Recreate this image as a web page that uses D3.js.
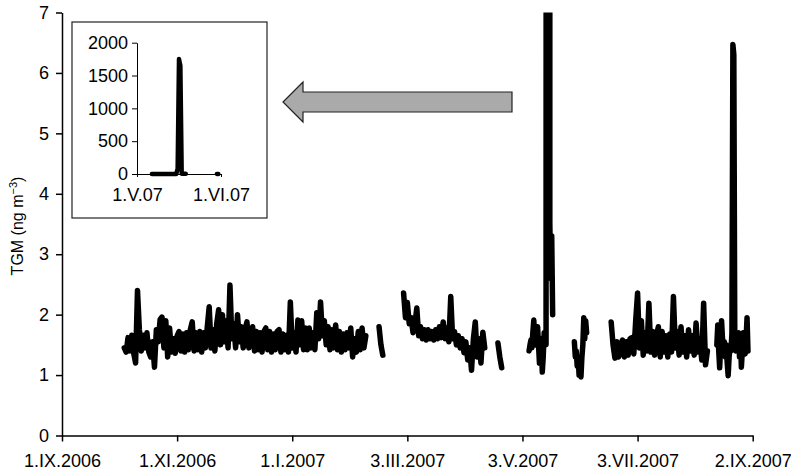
<!DOCTYPE html>
<html>
<head>
<meta charset="utf-8">
<script src="https://cdn.jsdelivr.net/npm/d3@7"></script>
<style>
  body { margin: 0; background: #fff; }
  text { font-family: "Liberation Sans", Arial, sans-serif; fill: #000; }
  .axis path, .axis line { stroke: #000; }
</style>
</head>
<body>
<div id="chart"></div>
<script>
// TGM time series, Sept 2006 - Sept 2007

const xTickDates = ['2006-09-01', '2006-11-01', '2007-01-01', '2007-03-03', '2007-05-03', '2007-07-03', '2007-09-02']
const xTickLabels = ['1.IX.2006', '1.XI.2006', '1.I.2007', '3.III.2007', '3.V.2007', '3.VII.2007', '2.IX.2007']
const yTicks = [0, 1, 2, 3, 4, 5, 6, 7]
const insetYTicks = [0, 500, 1000, 1500, 2000]
const insetXTickDates = ['2007-05-01', '2007-06-01']
const insetXTickLabels = ['1.V.07', '1.VI.07']

// measurement runs: start time, step in hours, values (ng m-3)
const segStarts = ['2006-10-04T00:00', '2007-02-16T00:00', '2007-03-01T00:00', '2007-04-20T00:00',
  '2007-05-06T12:00', '2007-05-30T12:00', '2007-06-19T00:00', '2007-08-14T00:00']
const segSteps = [24, 24, 24, 24, 12, 12, 24, 12]

const octToFeb = [1.45, 1.38, 1.62, 1.4, 1.66, 1.36, 1.2, 2.4, 1.75, 1.4, 1.66, 1.45, 1.7, 1.38, 1.3, 1.55,
  1.13, 1.75, 1.55, 1.92, 1.96, 1.45, 1.9, 1.3, 1.78, 1.38, 1.6, 1.36, 1.65, 1.72, 1.4, 1.68, 1.38, 1.7,
  1.42, 1.75, 1.88, 1.4, 1.7, 1.42, 1.72, 1.38, 1.7, 1.45, 1.8, 2.13, 1.45, 1.75, 1.4, 1.85, 2.08, 1.5,
  2.0, 1.55, 1.9, 1.45, 2.49, 1.6, 1.85, 1.45, 2.0, 1.55, 1.8, 1.45, 1.75, 1.88, 1.45, 1.7, 1.8, 1.4,
  1.72, 1.42, 1.7, 1.38, 1.72, 1.78, 1.42, 1.72, 1.38, 1.68, 1.42, 1.72, 1.75, 1.38, 1.68, 1.42, 1.66,
  1.38, 2.21, 1.45, 1.7, 1.38, 1.91, 1.5, 1.9, 1.42, 1.78, 1.42, 1.78, 1.45, 1.7, 1.42, 2.03, 1.6, 2.21,
  1.65, 1.9, 1.5, 1.8, 1.42, 1.75, 1.45, 1.83, 1.42, 1.72, 1.38, 1.68, 1.42, 1.7, 1.45, 1.78, 1.3, 1.6,
  1.38, 1.72, 1.42, 1.78, 1.45, 1.65]
const midFeb = [1.8, 1.5, 1.33]
const marToApr = [2.36, 1.95, 2.2, 1.85, 1.95, 1.7, 1.85, 2.11, 1.65, 1.8, 1.6, 1.75, 1.58, 1.75, 1.6, 1.72,
  1.58, 1.75, 1.6, 1.8, 1.62, 1.88, 1.6, 1.78, 1.55, 2.3, 1.6, 1.72, 1.5, 1.65, 1.45, 1.6, 1.37, 1.55,
  1.25, 1.45, 1.08, 1.6, 1.88, 1.3, 1.6, 1.2, 1.71, 1.45]
const lateApr = [1.53, 1.3, 1.12]
const mayEvent = [1.4, 1.5, 1.58, 1.45, 1.7, 1.91, 1.6, 1.5, 1.65, 1.8, 1.5, 1.2, 1.4, 1.6, 1.05, 1.3,
  1.7, 1.6, 1.5, 80, 1750, 1650, 3.5, 2.6, 3.3, 2.0]
const endMay = [1.55, 1.3, 1.4, 1.15, 1.3, 1.0, 1.2, 0.97, 1.3, 1.5, 1.95, 1.6, 1.9, 1.7]
const junToAug = [1.88, 1.5, 1.28, 1.55, 1.3, 1.5, 1.58, 1.3, 1.55, 1.33, 1.6, 1.62, 1.35, 1.9, 2.36, 1.45,
  1.9, 1.33, 1.7, 1.4, 2.19, 1.38, 1.72, 1.33, 1.65, 1.8, 1.3, 1.72, 1.38, 1.65, 1.3, 1.68, 1.38, 2.3,
  1.45, 1.72, 1.33, 1.8, 1.38, 1.65, 1.3, 1.75, 1.4, 1.65, 1.33, 1.86, 1.38, 1.6, 1.25, 2.19, 1.17, 1.4]
const midAug = [1.5, 1.83, 1.4, 1.12, 1.5, 1.9, 1.6, 1.4, 1.55, 1.3, 1.5, 1.2, 0.99, 1.3, 1.45, 1.4,
  1.7, 6.47, 6.3, 1.6, 1.4, 1.6, 1.5, 1.7, 1.3, 1.6, 1.13, 1.4, 1.7, 1.5, 1.35, 1.6, 1.95, 1.4]

const segValues = [octToFeb, midFeb, marToApr, lateApr, mayEvent, endMay, junToAug, midAug]

const width = 791
const height = 471

const parse = s => new Date(s + (s.length > 10 ? ':00Z' : 'T00:00:00Z'))

const segments = segValues.map((vals, k) => {
  const t0 = parse(segStarts[k]).getTime()
  return vals.map((v, i) => ({ date: new Date(t0 + i * segSteps[k] * 3600e3), value: v }))
})

const svg = d3.select('#chart')
  .append('svg')
  .attr('width', width)
  .attr('height', height)

// main scales
const x = d3.scaleUtc()
  .domain([parse('2006-09-01'), parse('2007-09-02')])
  .range([62, 752.7])
const y = d3.scaleLinear().domain([0, 7]).range([435.5, 12.5])

svg.append('defs').append('clipPath')
  .attr('id', 'plotclip')
  .append('rect')
  .attr('x', 62).attr('y', 12.5)
  .attr('width', width - 62).attr('height', 423)

const line = d3.line()
  .x(d => x(d.date))
  .y(d => y(d.value))

svg.append('g')
  .attr('clip-path', 'url(#plotclip)')
  .selectAll('path')
  .data(segments)
  .enter().append('path')
  .attr('d', line)
  .attr('fill', 'none')
  .attr('stroke', '#000')
  .attr('stroke-width', 5.5)
  .attr('stroke-linejoin', 'round')
  .attr('stroke-linecap', 'round')

// axes
const xAxis = svg.append('g')
  .attr('class', 'axis')
  .attr('transform', `translate(0, ${y(0)})`)
  .call(d3.axisBottom(x)
    .tickValues(xTickDates.map(parse))
    .tickFormat((d, i) => xTickLabels[i])
    .tickSize(6)
    .tickSizeOuter(0)
    .tickPadding(13))
xAxis.selectAll('text').style('font-size', '18px')
xAxis.select('.domain').attr('stroke-width', 1.5)
xAxis.selectAll('line').attr('stroke-width', 1.5)

const yAxis = svg.append('g')
  .attr('class', 'axis')
  .attr('transform', `translate(${x.range()[0]}, 0)`)
  .call(d3.axisLeft(y)
    .tickValues(yTicks)
    .tickFormat(d3.format('d'))
    .tickSize(6)
    .tickSizeOuter(0)
    .tickPadding(7))
yAxis.selectAll('text').style('font-size', '18px')
yAxis.select('.domain').attr('stroke-width', 1.5)
yAxis.selectAll('line').attr('stroke-width', 1.5)

// y title
const title = svg.append('text')
  .attr('transform', 'translate(23, 226) rotate(-90)')
  .attr('text-anchor', 'middle')
  .style('font-size', '16px')
title.append('tspan').text('TGM (ng m')
title.append('tspan').text('\u22123').attr('dy', -6).style('font-size', '11px')
title.append('tspan').text(')').attr('dy', 6)

// arrow pointing to the inset
const arrowPts = [[283, 102], [303, 82], [303, 92], [512, 92], [512, 112], [303, 112], [303, 122]]
svg.append('polygon')
  .attr('points', arrowPts.map(p => p.join(',')).join(' '))
  .attr('fill', '#aaaaaa')
  .attr('stroke', '#222')
  .attr('stroke-width', 1.2)

// inset with full range of the May event
const inset = svg.append('g')
inset.append('rect')
  .attr('x', 72).attr('y', 22)
  .attr('width', 195).attr('height', 196)
  .attr('fill', '#fff')
  .attr('stroke', '#222')
  .attr('stroke-width', 1.2)

const xi = d3.scaleUtc()
  .domain(insetXTickDates.map(parse))
  .range([137, 221])
const yi = d3.scaleLinear().domain([0, 2000]).range([174, 42.7])

const insetSegs = [segments[4], segments[5].filter(d => d.date <= parse('2007-05-31'))]

const iyAxis = inset.append('g')
  .attr('class', 'axis')
  .attr('transform', `translate(${xi.range()[0]}, 0)`)
  .call(d3.axisLeft(yi)
    .tickValues(insetYTicks)
    .tickFormat(d3.format('d'))
    .tickSize(5)
    .tickSizeOuter(0)
    .tickPadding(4))
iyAxis.selectAll('text').style('font-size', '18px')

const ixAxis = inset.append('g')
  .attr('class', 'axis')
  .attr('transform', `translate(0, ${yi(0)})`)
  .call(d3.axisBottom(xi)
    .tickValues(insetXTickDates.map(parse))
    .tickFormat((d, i) => insetXTickLabels[i])
    .tickSize(3)
    .tickSizeOuter(0)
    .tickPadding(11))
ixAxis.selectAll('text').style('font-size', '18px')

const iline = d3.line()
  .x(d => xi(d.date))
  .y(d => yi(d.value))

inset.append('g')
  .selectAll('path')
  .data(insetSegs)
  .enter().append('path')
  .attr('d', iline)
  .attr('fill', 'none')
  .attr('stroke', '#000')
  .attr('stroke-width', 4.5)
  .attr('stroke-linejoin', 'round')
  .attr('stroke-linecap', 'round')
</script>
</body>
</html>
